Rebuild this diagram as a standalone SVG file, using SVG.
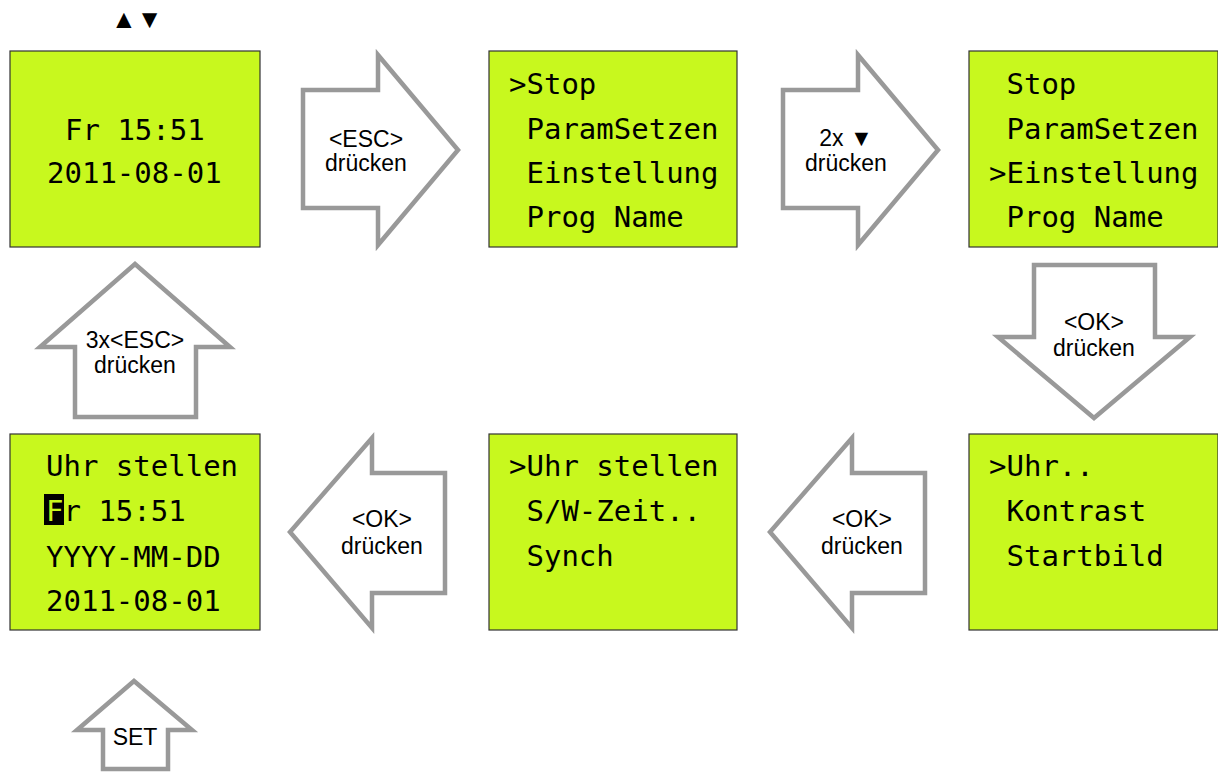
<svg xmlns="http://www.w3.org/2000/svg" width="1218" height="772" viewBox="0 0 1218 772">
<style>
.lcd{fill:#c8f81e;stroke:#333;stroke-width:1.2}
.mono{font-family:"DejaVu Sans Mono","Liberation Mono",monospace;font-size:29px;fill:#000;white-space:pre}
.arr{fill:#fff;stroke:#999;stroke-width:4.5;stroke-linejoin:miter}
.lbl{font-family:"Liberation Sans",Arial,sans-serif;font-size:23px;fill:#000;text-anchor:middle}
</style>
<rect width="1218" height="772" fill="#fff"/>
<text x="111" y="28" font-family="'Liberation Sans','DejaVu Sans',sans-serif" font-size="26">▲▼</text>

<g id="node-start">
<rect class="lcd" x="10" y="51" width="250" height="196"/>
<text class="mono" x="65" y="140">Fr 15:51</text>
<text class="mono" x="47" y="183">2011-08-01</text>
</g>
<g id="node-menu1">
<rect class="lcd" x="489" y="51" width="248" height="196"/>
<text class="mono" x="509" y="94">&gt;Stop</text>
<text class="mono" x="509" y="139"> ParamSetzen</text>
<text class="mono" x="509" y="183"> Einstellung</text>
<text class="mono" x="509" y="227"> Prog Name</text>
</g>
<g id="node-menu2">
<rect class="lcd" x="969" y="51" width="249" height="196"/>
<text class="mono" x="989" y="94"> Stop</text>
<text class="mono" x="989" y="139"> ParamSetzen</text>
<text class="mono" x="989" y="183">&gt;Einstellung</text>
<text class="mono" x="989" y="227"> Prog Name</text>
</g>
<g id="node-einstellung">
<rect class="lcd" x="969" y="434" width="249" height="196"/>
<text class="mono" x="989" y="476">&gt;Uhr..</text>
<text class="mono" x="989" y="521"> Kontrast</text>
<text class="mono" x="989" y="566"> Startbild</text>
</g>
<g id="node-uhr">
<rect class="lcd" x="489" y="434" width="248" height="196"/>
<text class="mono" x="509" y="476">&gt;Uhr stellen</text>
<text class="mono" x="509" y="521"> S/W-Zeit..</text>
<text class="mono" x="509" y="566"> Synch</text>
</g>
<g id="node-uhrstellen">
<rect class="lcd" x="10" y="434" width="250" height="196"/>
<rect x="44" y="494" width="20" height="31" fill="#000"/>
<text class="mono" x="46" y="476">Uhr stellen</text>
<text class="mono" x="46" y="521"><tspan fill="#c8f81e">F</tspan>r 15:51</text>
<text class="mono" x="46" y="567">YYYY-MM-DD</text>
<text class="mono" x="46" y="611">2011-08-01</text>
</g>

<g id="connectors">
<g id="arrow-esc">
<polygon class="arr" points="303,90 378,90 378,55 458,150 378,245 378,208 303,208"/>
<text class="lbl" x="366" y="147">&lt;ESC&gt;</text>
<text class="lbl" x="366" y="171">drücken</text>
</g>
<g id="arrow-down2x">
<polygon class="arr" points="783,90 858,90 858,55 938,150 858,245 858,208 783,208"/>
<text class="lbl" x="846" y="146">2x ▼</text>
<text class="lbl" x="846" y="171">drücken</text>
</g>
<g id="arrow-ok1">
<polygon class="arr" points="1034,265 1155,265 1155,337 1190,337 1094,418 998,337 1034,337"/>
<text class="lbl" x="1094" y="330">&lt;OK&gt;</text>
<text class="lbl" x="1094" y="356">drücken</text>
</g>
<g id="arrow-ok2">
<polygon class="arr" points="925,473 852,473 852,438 770,532 852,628 852,593 925,593"/>
<text class="lbl" x="862" y="527">&lt;OK&gt;</text>
<text class="lbl" x="862" y="554">drücken</text>
</g>
<g id="arrow-ok3">
<polygon class="arr" points="445,473 372,473 372,438 290,532 372,628 372,593 445,593"/>
<text class="lbl" x="382" y="527">&lt;OK&gt;</text>
<text class="lbl" x="382" y="554">drücken</text>
</g>
<g id="arrow-esc3">
<polygon class="arr" points="75,417 75,347 40,347 135,264 230,347 196,347 196,417"/>
<text class="lbl" x="135" y="348">3x&lt;ESC&gt;</text>
<text class="lbl" x="135" y="373">drücken</text>
</g>
<g id="arrow-set">
<polygon class="arr" points="103,769 103,730 77,730 134,681 192,730 168,730 168,769"/>
<text class="lbl" x="135" y="745">SET</text>
</g>
</g>
</svg>
